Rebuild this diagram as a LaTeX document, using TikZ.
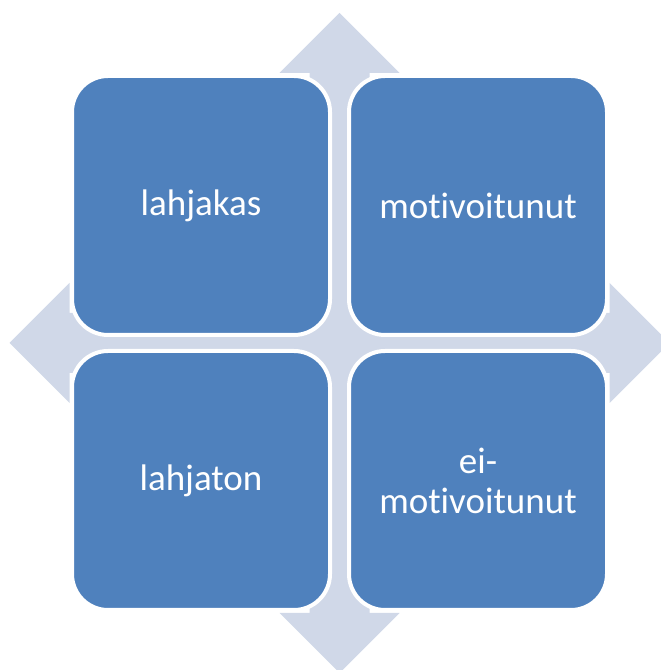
\documentclass[tikz,border=0pt]{standalone}
\usepackage{fontspec}
\setmainfont{Carlito}[Ligatures={NoCommon}]
\usetikzlibrary{calc}
\definecolor{boxblue}{RGB}{79,129,189}
\definecolor{crosslight}{RGB}{208,216,232}
\begin{document}
\begin{tikzpicture}[x=1pt,y=1pt,
  cell/.style={rectangle, rounded corners=36pt, minimum width=258pt, minimum height=259pt,
    inner sep=0pt, fill=boxblue, draw=white, line width=4pt, text=white,
    font=\fontsize{37}{40}\selectfont, align=center}]
\useasboundingbox (0,0) rectangle (661,670);
\clip (0,0) rectangle (661,670);
\coordinate (c) at (339.5,327);
% background quad arrow
\fill[crosslight] ($(c)+(0,330)$) -- ($(c)+(60,270)$) -- ($(c)+(30,270)$) -- ($(c)+(30,30)$)
  -- ($(c)+(270,30)$) -- ($(c)+(270,60)$) -- ($(c)+(330,0)$) -- ($(c)+(270,-60)$)
  -- ($(c)+(270,-30)$) -- ($(c)+(30,-30)$) -- ($(c)+(30,-270)$) -- ($(c)+(60,-270)$)
  -- ($(c)+(0,-330)$) -- ($(c)+(-60,-270)$) -- ($(c)+(-30,-270)$) -- ($(c)+(-30,-30)$)
  -- ($(c)+(-270,-30)$) -- ($(c)+(-270,-60)$) -- ($(c)+(-330,0)$) -- ($(c)+(-270,60)$)
  -- ($(c)+(-270,30)$) -- ($(c)+(-30,30)$) -- ($(c)+(-30,270)$) -- ($(c)+(-60,270)$) -- cycle;
\node[cell] (tl) at (201,464.5) {lahjakas};
\node[cell] (tr) at (478,464.5) {motivoitunut};
\node[cell] (bl) at (201,189.5) {lahjaton};
\node[cell] (br) at (478,189.5) {ei-\\motivoitunut};
\end{tikzpicture}
\end{document}
